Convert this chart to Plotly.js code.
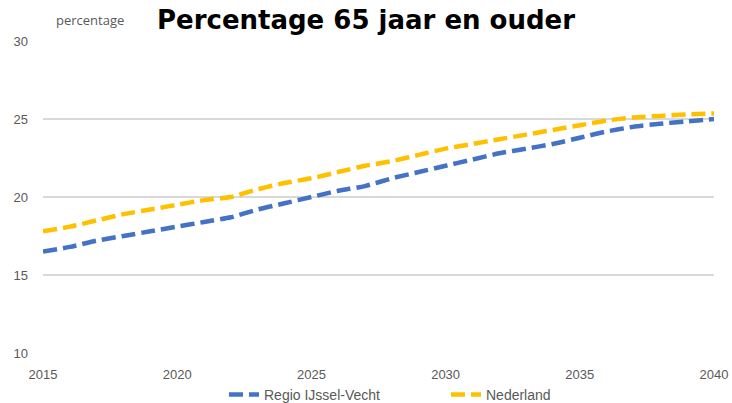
<!DOCTYPE html>
<html>
<head>
<meta charset="utf-8">
<script src="https://cdn.plot.ly/plotly-3.0.1.min.js"></script>
<style>html,body{margin:0;padding:0;background:#fff;}#chart{width:732px;height:403px;}</style>
</head>
<body>
<div id="chart"></div>
<script>
const years = [2015,2016,2017,2018,2019,2020,2021,2022,2023,2024,2025,2026,2027,2028,2029,2030,2031,2032,2033,2034,2035,2036,2037,2038,2039,2040];
const regio = [16.5,16.8,17.2,17.5,17.8,18.1,18.4,18.7,19.2,19.6,20.0,20.4,20.7,21.2,21.6,22.0,22.4,22.8,23.1,23.4,23.8,24.2,24.5,24.7,24.85,25.0];
const nederland = [17.8,18.1,18.5,18.9,19.2,19.5,19.8,20.0,20.5,20.9,21.2,21.6,22.0,22.3,22.7,23.1,23.4,23.7,24.0,24.3,24.6,24.9,25.1,25.2,25.3,25.35];
const seriesNames = ["Regio IJssel-Vecht","Nederland"];
const xTicks = [2015,2020,2025,2030,2035,2040];
const yTicks = [10,15,20,25,30];

const traces = [
  {x: years, y: regio, name: seriesNames[0], type: "scatter", mode: "lines",
   line: {color: "#4472C4", width: 4.5, dash: "14px,6px", shape: "spline", smoothing: 0.6}},
  {x: years, y: nederland, name: seriesNames[1], type: "scatter", mode: "lines",
   line: {color: "#FFC000", width: 4.5, dash: "14px,6px", shape: "spline", smoothing: 0.6}}
];

const layout = {
  width: 732, height: 403,
  margin: {l: 43, r: 18, t: 41, b: 50},
  paper_bgcolor: "#fff", plot_bgcolor: "#fff",
  showlegend: true,
  legend: {orientation: "h", x: 0.306, xanchor: "left", xref: "container",
           y: 0.02, yanchor: "middle", yref: "container",
           font: {family: "Liberation Sans, Arial, sans-serif", size: 14, color: "#595959"},
           entrywidth: 177, entrywidthmode: "pixels", tracegroupgap: 0},
  title: {text: "<b>Percentage 65 jaar en ouder</b>", x: 0.5, xanchor: "center", y: 0.95, yanchor: "middle",
          font: {family: "DejaVu Sans, Verdana, sans-serif", size: 26, color: "#000"}},
  xaxis: {range: [2015, 2040], tickvals: xTicks, ticktext: xTicks.map(String),
          showgrid: false, zeroline: false, showline: false, ticks: "", automargin: false,
          ticklabelstandoff: 12,
          tickfont: {family: "Liberation Sans, Arial, sans-serif", size: 13, color: "#595959"}},
  yaxis: {range: [10, 30], tickvals: yTicks, ticktext: yTicks.map(String), automargin: false,
          showgrid: true, gridcolor: "#D9D9D9", gridwidth: 1.3, zeroline: false, showline: false, ticks: "",
          ticklabelstandoff: 14,
          tickfont: {family: "Liberation Sans, Arial, sans-serif", size: 13, color: "#595959"}},
  annotations: [{text: "percentage", xref: "paper", yref: "paper", x: 0.016, y: 1.0, xanchor: "left", yanchor: "bottom",
                 yshift: 10, showarrow: false, font: {family: "Open Sans, sans-serif", size: 13, color: "#595959"}}]
};

Plotly.newPlot("chart", traces, layout, {staticPlot: true, displayModeBar: false});
</script>
</body>
</html>
